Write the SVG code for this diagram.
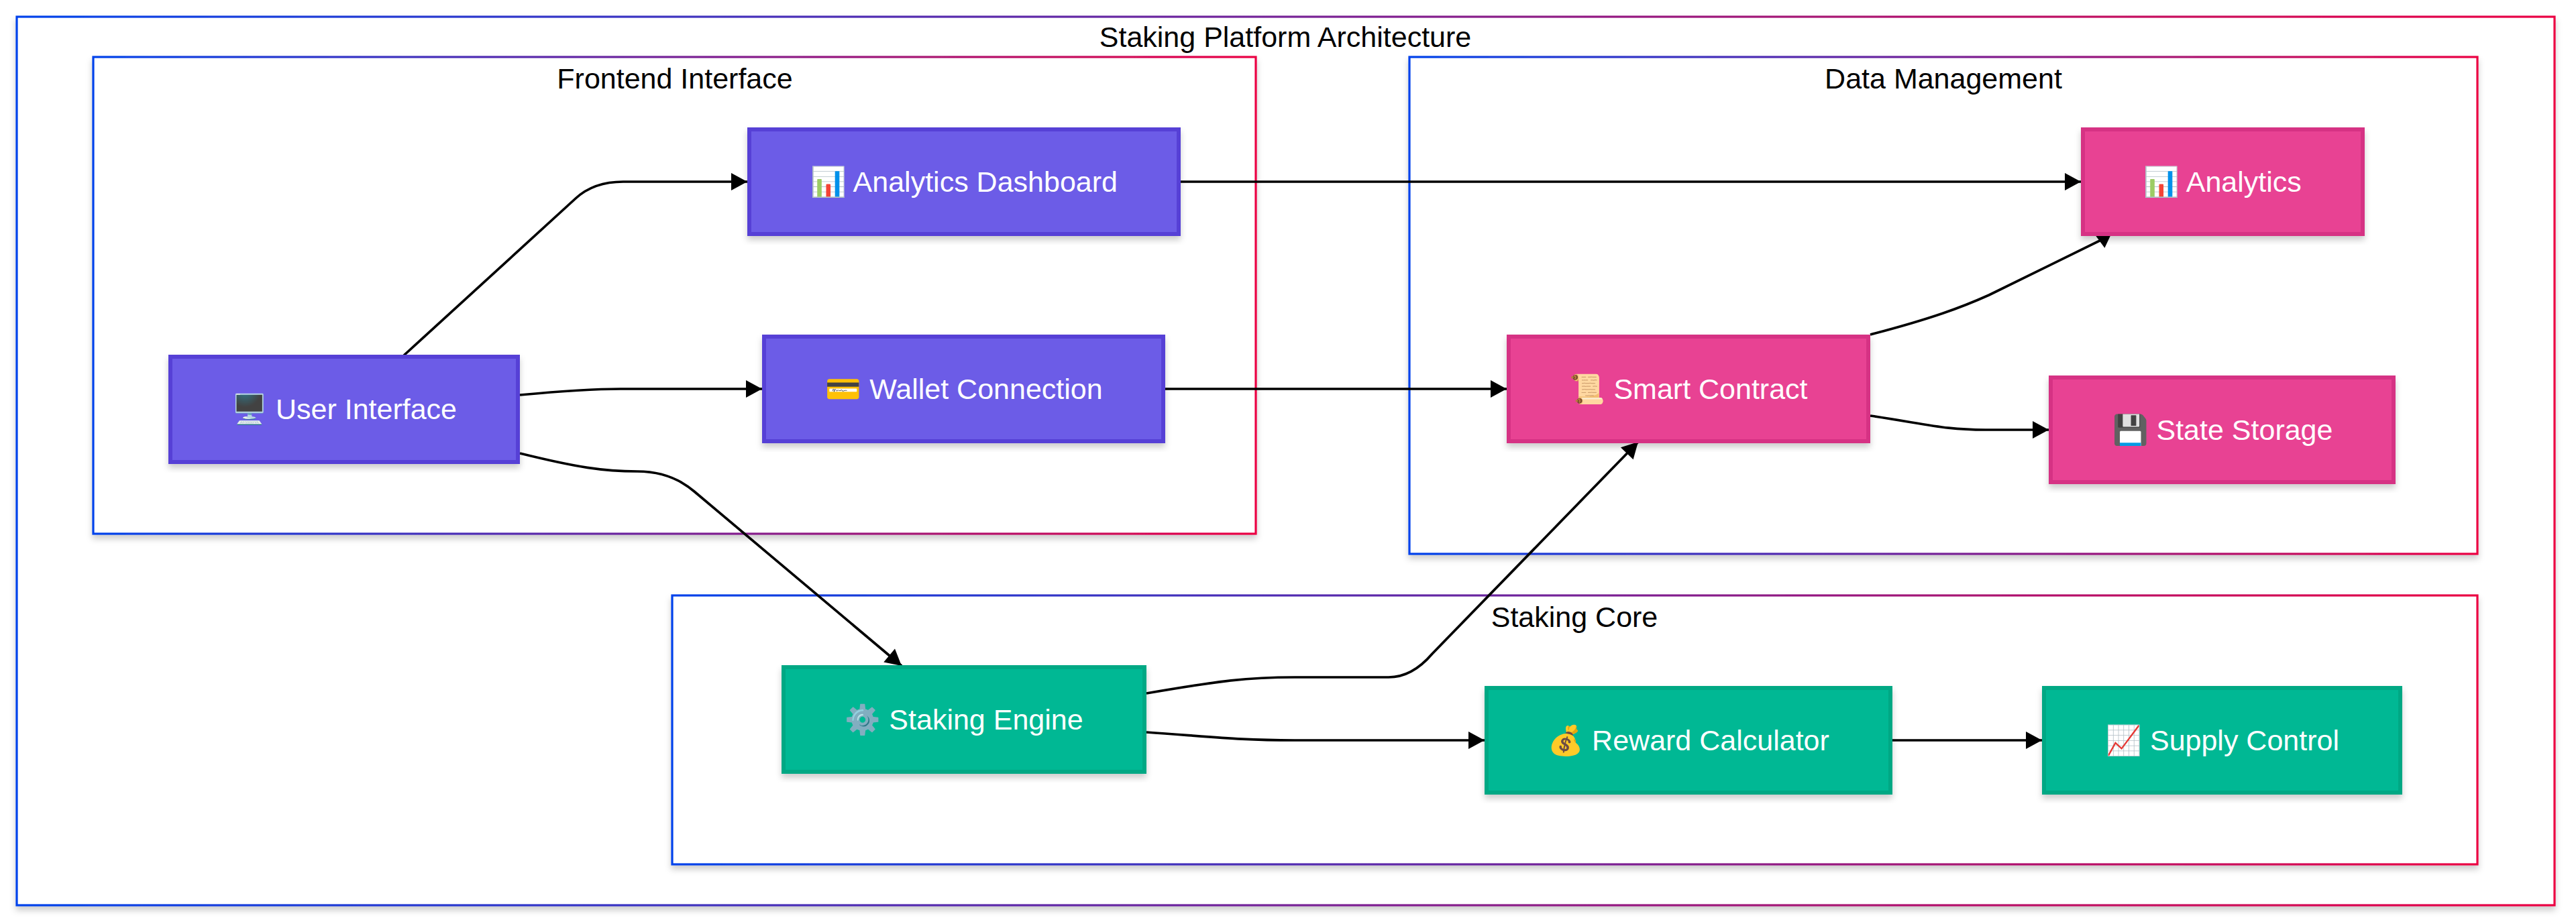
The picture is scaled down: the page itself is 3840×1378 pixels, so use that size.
<svg xmlns="http://www.w3.org/2000/svg" width="3840" height="1378" viewBox="0 0 3840 1378">
<style>
text{font-family:"Liberation Sans",Arial,sans-serif;font-size:43px;text-anchor:middle}
.t{fill:#000}
.l{fill:#fff}
.c{fill:#fff;stroke:url(#g);stroke-width:3.2;filter:url(#s)}
.p{fill:#6c5ce7;stroke:#5641d6;stroke-width:6;filter:url(#s)}
.k{fill:#e84393;stroke:#d63384;stroke-width:6;filter:url(#s)}
.e{fill:#00b894;stroke:#00a884;stroke-width:6;filter:url(#s)}
.a{fill:none;stroke:#000;stroke-width:3.7;marker-end:url(#m)}
</style>
<defs>
<linearGradient id="g" x1="0" y1="0" x2="1" y2="0"><stop offset="0" stop-color="#0042eb"/><stop offset="1" stop-color="#eb0042"/></linearGradient>
<filter id="s" x="-5%" y="-5%" width="110%" height="115%"><feDropShadow dx="0" dy="6" stdDeviation="5" flood-color="#000" flood-opacity=".2"/></filter>
<marker id="m" markerUnits="userSpaceOnUse" markerWidth="30" markerHeight="30" refX="25" refY="15" orient="auto"><path d="M1 2L25 15L1 28z" fill="#000"/></marker>
</defs>
<rect width="3840" height="1378" fill="#fff"/>
<g id="clusters">
<g id="platform"><rect class="c" x="25" y="25" width="3783" height="1325"/><text class="t" x="1916" y="70">Staking Platform Architecture</text></g>
<g id="frontend"><rect class="c" x="139" y="85" width="1733" height="711"/><text class="t" x="1006" y="132">Frontend Interface</text></g>
<g id="data"><rect class="c" x="2101" y="85" width="1592" height="741"/><text class="t" x="2897" y="132">Data Management</text></g>
<g id="core"><rect class="c" x="1002" y="888" width="2691" height="401"/><text class="t" x="2347" y="935">Staking Core</text></g>
</g>
<g id="connectors">
<path class="a" d="M602 530L858 296Q885 271 929 271L1114 271"/>
<path class="a" d="M775 589C840 583 880 580 925 580L1136 580"/>
<path class="a" d="M775 676C860 697 900 703 950 703Q1000 703 1035 733L1344 993"/>
<path class="a" d="M1760 271L3102 271"/>
<path class="a" d="M1737 580L2246 580"/>
<path class="a" d="M2788 499C2880 475 2925 458 2965 440L3130 359L3149 345"/>
<path class="a" d="M2788 620C2880 634 2900 641 2960 641L3054 641"/>
<path class="a" d="M1709 1034C1820 1015 1860 1010 1930 1010L2070 1010Q2105 1010 2135 975L2442 659"/>
<path class="a" d="M1709 1092C1820 1100 1850 1104 1930 1104L2213 1104"/>
<path class="a" d="M2821 1104L3044 1104"/>
</g>
<g id="ui"><rect class="p" x="254" y="532" width="518" height="157"/><text class="l" x="513" y="625">🖥️ User Interface</text></g>
<g id="dash"><rect class="p" x="1117" y="193" width="640" height="156"/><text class="l" x="1437" y="286">📊 Analytics Dashboard</text></g>
<g id="wallet"><rect class="p" x="1139" y="502" width="595" height="156"/><text class="l" x="1437" y="595">💳 Wallet Connection</text></g>
<g id="analytics"><rect class="k" x="3105" y="193" width="417" height="156"/><text class="l" x="3313" y="286">📊 Analytics</text></g>
<g id="smart"><rect class="k" x="2249" y="502" width="536" height="156"/><text class="l" x="2517" y="595">📜 Smart Contract</text></g>
<g id="state"><rect class="k" x="3057" y="563" width="511" height="156"/><text class="l" x="3313" y="656">💾 State Storage</text></g>
<g id="engine"><rect class="e" x="1168" y="995" width="538" height="156"/><text class="l" x="1437" y="1088">⚙️ Staking Engine</text></g>
<g id="reward"><rect class="e" x="2216" y="1026" width="602" height="156"/><text class="l" x="2517" y="1119">💰 Reward Calculator</text></g>
<g id="supply"><rect class="e" x="3047" y="1026" width="531" height="156"/><text class="l" x="3313" y="1119">📈 Supply Control</text></g>
</svg>
